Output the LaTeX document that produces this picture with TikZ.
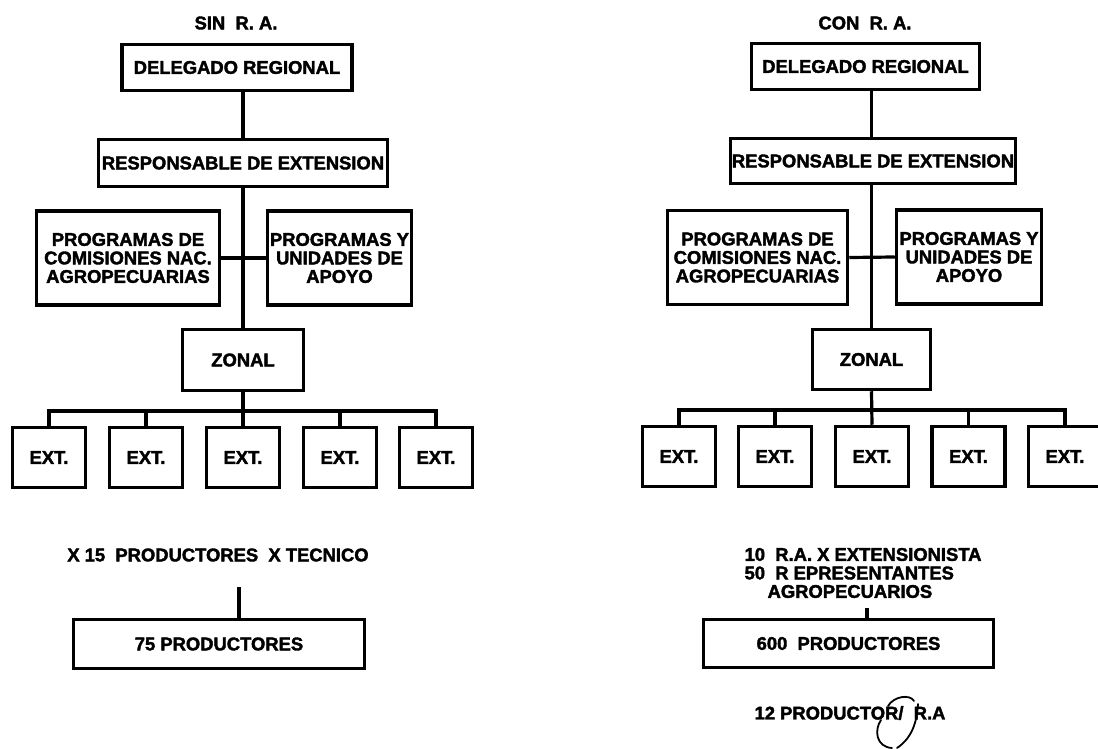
\documentclass[tikz,border=0pt]{standalone}
\usepackage{fontspec}
\setmainfont{Liberation Sans}[BoldFont={Liberation Sans Bold}, BoldFeatures={FakeBold=2}]
\usepackage{tikz}

\begin{document}
\begin{tikzpicture}[x=1pt, y=-1pt, line width=3.2pt]
  \tikzstyle{box}=[draw, line width=3.5pt, inner sep=0pt, align=center, font=\fontsize{18.4}{18.5}\selectfont\bfseries]
  \tikzstyle{lbl}=[inner sep=0pt, align=left, font=\fontsize{18.4}{18.5}\selectfont\bfseries]
  \tikzstyle{ext}=[box, minimum width=73pt, minimum height=60pt]
  \tikzstyle{scribble}=[line width=1.8pt, line cap=round]
  \useasboundingbox (0,0) rectangle (1098,749);
  \clip (0,0) rectangle (1098,749);

  % sin R.A.
  \node[lbl] (L_tit) at (236,23) {SIN \ R. A.};
  \node[box, minimum width=230pt, minimum height=46pt] (L_del) at (237,67.5) {DELEGADO REGIONAL};
  \node[box, minimum width=289pt, minimum height=47pt] (L_res) at (243,163) {RESPONSABLE DE EXTENSION};
  \node[box, minimum width=183pt, minimum height=94pt] (L_pcn) at (128,258) {PROGRAMAS DE\\COMISIONES NAC.\\AGROPECUARIAS};
  \node[box, minimum width=144pt, minimum height=94pt] (L_pua) at (339.5,258) {PROGRAMAS Y\\UNIDADES DE\\APOYO};
  \node[box, minimum width=121pt, minimum height=61pt] (L_zon) at (243,360) {ZONAL};
  \node[ext] (L_e1) at (49,457.5) {EXT.};
  \node[ext] (L_e2) at (146,457.5) {EXT.};
  \node[ext] (L_e3) at (243,457.5) {EXT.};
  \node[ext] (L_e4) at (340,457.5) {EXT.};
  \node[ext] (L_e5) at (436,457.5) {EXT.};
  \node[lbl] (L_txt) at (218,555) {X 15 \ PRODUCTORES \ X TECNICO};
  \node[box, minimum width=291pt, minimum height=49pt] (L_pro) at (219,644) {75 PRODUCTORES};
  \coordinate (L_tick) at (239,587);
  \coordinate (L_bus) at (243,411);
  \draw (L_zon.north |- L_del.south) -- (L_zon.north |- L_res.north);
  \draw (L_zon.north |- L_res.south) -- (L_zon.north);
  \draw (L_pcn.east) -- (L_pua.west);
  \draw (L_zon.south) -- (L_e3.north);
  \draw (L_e1.north) |- (L_bus) -| (L_e5.north);
  \draw (L_e2.north) -- (L_e2.north |- L_bus);
  \draw (L_e4.north) -- (L_e4.north |- L_bus);
  \draw (L_tick) -- (L_tick |- L_pro.north);

  % con R.A.
  \node[lbl] (R_tit) at (865,23) {CON \ R. A.};
  \node[box, minimum width=228pt, minimum height=46pt] (R_del) at (865.5,66.5) {DELEGADO REGIONAL};
  \node[box, minimum width=285pt, minimum height=45pt] (R_res) at (873,161) {RESPONSABLE DE EXTENSION};
  \node[box, minimum width=180pt, minimum height=94pt] (R_pcn) at (757.5,257.5) {PROGRAMAS DE\\COMISIONES NAC.\\AGROPECUARIAS};
  \node[box, minimum width=145pt, minimum height=94pt] (R_pua) at (969,257) {PROGRAMAS Y\\UNIDADES DE\\APOYO};
  \node[box, minimum width=118pt, minimum height=60pt] (R_zon) at (871.5,359.5) {ZONAL};
  \node[ext] (R_e1) at (679,456.5) {EXT.};
  \node[ext] (R_e2) at (775,456.5) {EXT.};
  \node[ext] (R_e3) at (872,456.5) {EXT.};
  \node[ext] (R_e4) at (968.5,456.5) {EXT.};
  \node[ext] (R_e5) at (1065,456.5) {EXT.};
  \node[lbl, anchor=west] (R_txt) at (743,573) {10 \ R.A. X EXTENSIONISTA\\50 \ R EPRESENTANTES\\\hspace*{23pt}AGROPECUARIOS};
  \node[box, minimum width=290pt, minimum height=48pt] (R_pro) at (848.5,643.5) {600 \ PRODUCTORES};
  \node[lbl] (R_low) at (850,713) {12 PRODUCTOR/ \ R.A};
  \coordinate (R_tick) at (867,608);
  \coordinate (R_bus) at (872,410);
  \draw (R_zon.north |- R_del.south) -- (R_zon.north |- R_res.north);
  \draw (R_zon.north |- R_res.south) -- (R_zon.north);
  \draw (R_pcn.east) -- (R_pua.west);
  \draw (R_zon.south) -- (R_e3.north);
  \draw (R_e1.north) |- (R_bus) -| (R_e5.north);
  \draw (R_e2.north) -- (R_e2.north |- R_bus);
  \draw (R_e4.north) -- (R_e4.north |- R_bus);
  \draw (R_tick) -- (R_tick |- R_pro.north);
  % hand mark on the last line
  \draw[scribble] (888,706) .. controls (894,696) and (910,694) .. (914,701);
  \draw[scribble] (918,704) .. controls (917,722) and (912,738) .. (897,748);
  \draw[scribble] (892,748) .. controls (876,747) and (874,730) .. (881,720);
\end{tikzpicture}
\end{document}
